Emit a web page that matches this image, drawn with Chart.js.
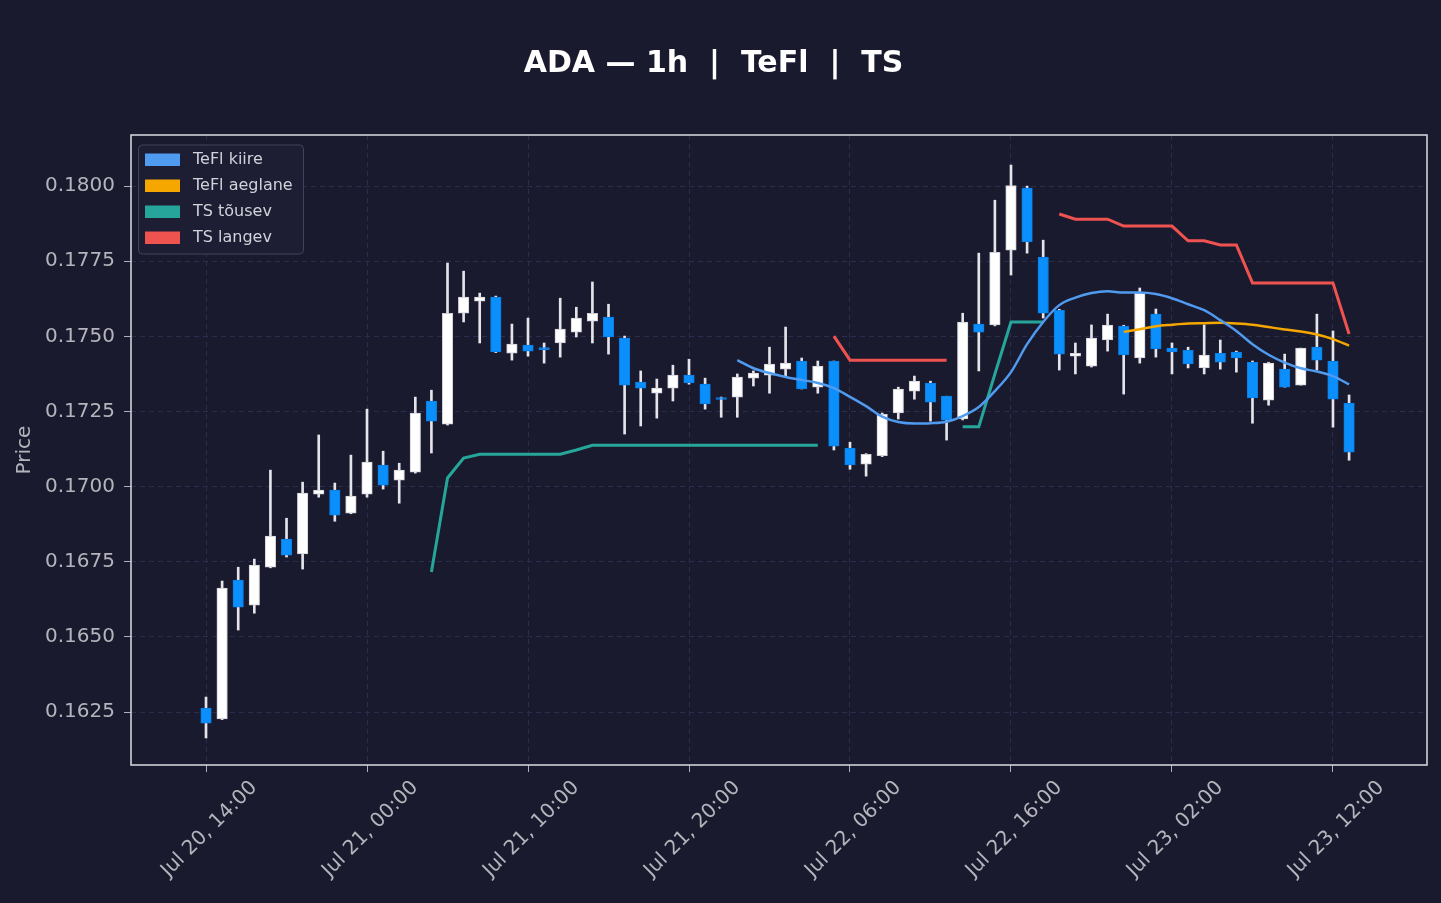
<!DOCTYPE html>
<html>
<head>
<meta charset="utf-8">
<script src="https://cdn.jsdelivr.net/npm/chart.js@4.4.1/dist/chart.umd.min.js"></script>
<style>
  html, body { margin: 0; padding: 0; background: #1a1a2e; }
  #wrap { width: 1441px; height: 903px; }
</style>
</head>
<body>
<div id="wrap"><canvas id="chart" width="1441" height="903"></canvas></div>
<script>
// hourly candles, hour 0 = Jul 20, 14:00
var tickHours = [0, 10, 20, 30, 40, 50, 60, 70];
var tickLabels = ['Jul 20, 14:00', 'Jul 21, 00:00', 'Jul 21, 10:00', 'Jul 21, 20:00',
                  'Jul 22, 06:00', 'Jul 22, 16:00', 'Jul 23, 02:00', 'Jul 23, 12:00'];
var priceTicks = [0.1625, 0.1650, 0.1675, 0.1700, 0.1725, 0.1750, 0.1775, 0.1800];

var opens = [0.16263, 0.16227, 0.16689, 0.16606, 0.16732, 0.16826, 0.16776, 0.16975, 0.16989, 0.16912,
             0.16975, 0.17072, 0.17022, 0.17048, 0.17285, 0.17208, 0.17577, 0.17617, 0.17631, 0.17444,
             0.17471, 0.17461, 0.17478, 0.17514, 0.17551, 0.17564, 0.17494, 0.17348, 0.17311, 0.17328,
             0.17371, 0.17341, 0.17294, 0.17298, 0.17361, 0.17371, 0.17391, 0.17418, 0.17331, 0.17418,
             0.17128, 0.17075, 0.17103, 0.17245, 0.17318, 0.17345, 0.17301, 0.17225, 0.17541, 0.17538,
             0.17787, 0.17993, 0.17764, 0.17587, 0.17434, 0.17401, 0.17488, 0.17534, 0.17428, 0.17574,
             0.17461, 0.17454, 0.17395, 0.17444, 0.17448, 0.17414, 0.17288, 0.17391, 0.17338, 0.17464,
             0.17418, 0.17278];
var highs = [0.16300, 0.16686, 0.16732, 0.16759, 0.17055, 0.16895, 0.17015, 0.17172, 0.17012, 0.17105,
             0.17258, 0.17118, 0.17078, 0.17298, 0.17321, 0.17744, 0.17717, 0.17644, 0.17634, 0.17541,
             0.17561, 0.17478, 0.17627, 0.17597, 0.17681, 0.17607, 0.17501, 0.17385, 0.17358, 0.17404,
             0.17424, 0.17361, 0.17298, 0.17375, 0.17385, 0.17464, 0.17531, 0.17428, 0.17418, 0.17418,
             0.17148, 0.17110, 0.17245, 0.17331, 0.17368, 0.17351, 0.17301, 0.17577, 0.17777, 0.17953,
             0.18070, 0.18000, 0.17820, 0.17590, 0.17478, 0.17538, 0.17574, 0.17537, 0.17661, 0.17591,
             0.17478, 0.17464, 0.17538, 0.17488, 0.17451, 0.17418, 0.17414, 0.17441, 0.17461, 0.17574,
             0.17518, 0.17305];
var lows = [0.16164, 0.16225, 0.16523, 0.16579, 0.16730, 0.16766, 0.16726, 0.16965, 0.16885, 0.16910,
            0.16965, 0.16992, 0.16945, 0.17045, 0.17112, 0.17205, 0.17548, 0.17478, 0.17446, 0.17421,
            0.17434, 0.17411, 0.17431, 0.17498, 0.17478, 0.17441, 0.17175, 0.17202, 0.17228, 0.17285,
            0.17341, 0.17258, 0.17231, 0.17231, 0.17335, 0.17311, 0.17365, 0.17325, 0.17311, 0.17122,
            0.17058, 0.17035, 0.17100, 0.17225, 0.17291, 0.17218, 0.17155, 0.17222, 0.17385, 0.17535,
            0.17704, 0.17777, 0.17561, 0.17388, 0.17375, 0.17398, 0.17451, 0.17308, 0.17411, 0.17431,
            0.17375, 0.17395, 0.17375, 0.17391, 0.17381, 0.17211, 0.17271, 0.17331, 0.17338, 0.17388,
            0.17198, 0.17088];
var closes = [0.16213, 0.16663, 0.16599, 0.16739, 0.16836, 0.16772, 0.16979, 0.16989, 0.16905, 0.16969,
              0.17082, 0.17005, 0.17055, 0.17245, 0.17218, 0.17577, 0.17631, 0.17631, 0.17448, 0.17474,
              0.17451, 0.17456, 0.17524, 0.17561, 0.17577, 0.17498, 0.17338, 0.17328, 0.17328, 0.17371,
              0.17345, 0.17275, 0.17290, 0.17365, 0.17378, 0.17408, 0.17411, 0.17325, 0.17401, 0.17135,
              0.17072, 0.17108, 0.17241, 0.17325, 0.17351, 0.17281, 0.17221, 0.17548, 0.17514, 0.17780,
              0.18002, 0.17814, 0.17577, 0.17441, 0.17444, 0.17494, 0.17538, 0.17438, 0.17644, 0.17458,
              0.17448, 0.17408, 0.17438, 0.17414, 0.17428, 0.17295, 0.17411, 0.17331, 0.17461, 0.17421,
              0.17291, 0.17115];

var tefiFast = [null, null, null, null, null, null, null, null, null, null,
                null, null, null, null, null, null, null, null, null, null,
                null, null, null, null, null, null, null, null, null, null,
                null, null, null, 0.17421, 0.17394, 0.17378, 0.17365, 0.17355, 0.17345, 0.17328,
                0.17299, 0.17268, 0.17233, 0.17215, 0.17210, 0.17211, 0.17216, 0.17235, 0.17265, 0.17318,
                0.17381, 0.17474, 0.17548, 0.17604, 0.17629, 0.17644, 0.17650, 0.17646, 0.17646, 0.17641,
                0.17627, 0.17607, 0.17587, 0.17554, 0.17518, 0.17474, 0.17439, 0.17413, 0.17394, 0.17383,
                0.17368, 0.17340];
var tefiSlow = [null, null, null, null, null, null, null, null, null, null,
                null, null, null, null, null, null, null, null, null, null,
                null, null, null, null, null, null, null, null, null, null,
                null, null, null, null, null, null, null, null, null, null,
                null, null, null, null, null, null, null, null, null, null,
                null, null, null, null, null, null, null, 0.17515, 0.17524, 0.17534,
                0.17539, 0.17543, 0.17544, 0.17545, 0.17543, 0.17539, 0.17531, 0.17523, 0.17516, 0.17506,
                0.17491, 0.17469];
var tsUp = [null, null, null, null, null, null, null, null, null, null,
            null, null, null, null, 0.16716, 0.17029, 0.17095, 0.17108, 0.17108, 0.17108,
            0.17108, 0.17108, 0.17108, 0.17122, 0.17138, 0.17138, 0.17138, 0.17138, 0.17138, 0.17138,
            0.17138, 0.17138, 0.17138, 0.17138, 0.17138, 0.17138, 0.17138, 0.17138, 0.17138, null,
            null, null, null, null, null, null, null, 0.17199, 0.17199, 0.17375,
            0.17548, 0.17548, 0.17548, null, null, null, null, null, null, null,
            null, null, null, null, null, null, null, null, null, null,
            null, null];
var tsDown = [null, null, null, null, null, null, null, null, null, null,
              null, null, null, null, null, null, null, null, null, null,
              null, null, null, null, null, null, null, null, null, null,
              null, null, null, null, null, null, null, null, null, 0.17501,
              0.17421, 0.17421, 0.17421, 0.17421, 0.17421, 0.17421, 0.17421, null, null, null,
              null, null, null, 0.17907, 0.17890, 0.17890, 0.17890, 0.17867, 0.17867, 0.17867,
              0.17867, 0.17818, 0.17818, 0.17804, 0.17804, 0.17678, 0.17678, 0.17678, 0.17678, 0.17678,
              0.17678, 0.17508];

var GRID = '#2c2c4c';
var TXT = '#b4b4bc';
Chart.defaults.font.family = '"DejaVu Sans", sans-serif';

var hours = opens.map(function (_, i) { return i; });
function pts(arr) {
  return hours.map(function (i) { return { x: i, y: arr[i] }; });
}
var up = hours.map(function (i) { return closes[i] >= opens[i]; });

// frame + legend drawn inside the plot, matplotlib style
var framePlugin = {
  id: 'frame',
  afterDraw: function (chart) {
    var ctx = chart.ctx, a = chart.chartArea;
    ctx.save();
    ctx.strokeStyle = '#dcdce2';
    ctx.lineWidth = 1.5;
    ctx.strokeRect(a.left, a.top, a.right - a.left, a.bottom - a.top);

    var bx = a.left + 7.5, by = a.top + 10, bw = 165, bh = 109, r = 4;
    ctx.beginPath();
    ctx.moveTo(bx + r, by);
    ctx.arcTo(bx + bw, by, bx + bw, by + bh, r);
    ctx.arcTo(bx + bw, by + bh, bx, by + bh, r);
    ctx.arcTo(bx, by + bh, bx, by, r);
    ctx.arcTo(bx, by, bx + bw, by, r);
    ctx.closePath();
    ctx.fillStyle = 'rgba(30,30,52,0.9)';
    ctx.fill();
    ctx.strokeStyle = '#42425f';
    ctx.lineWidth = 1;
    ctx.stroke();

    var items = chart.data.datasets.filter(function (d) { return d.type === 'line'; });
    ctx.font = '16px "DejaVu Sans"';
    ctx.textBaseline = 'middle';
    items.forEach(function (d, k) {
      ctx.fillStyle = d.borderColor;
      ctx.fillRect(a.left + 14, a.top + 18.5 + 26 * k, 35, 12.5);
      ctx.fillStyle = '#d2d2da';
      ctx.fillText(d.label, a.left + 62, a.top + 25 + 26 * k);
    });
    ctx.restore();
  }
};

var ctx = document.getElementById('chart').getContext('2d');
var myChart = new Chart(ctx, {
  type: 'bar',
  data: {
    datasets: [
      { type: 'line', label: 'TeFl kiire', data: pts(tefiFast), borderColor: '#4f9bef',
        borderWidth: 2.5, pointRadius: 0, cubicInterpolationMode: 'monotone', order: 0 },
      { type: 'line', label: 'TeFl aeglane', data: pts(tefiSlow), borderColor: '#f5a700',
        borderWidth: 2.5, pointRadius: 0, cubicInterpolationMode: 'monotone', order: 0 },
      { type: 'line', label: 'TS tõusev', data: pts(tsUp), borderColor: '#26a69a',
        borderWidth: 3, pointRadius: 0, tension: 0, order: 0 },
      { type: 'line', label: 'TS langev', data: pts(tsDown), borderColor: '#ef5350',
        borderWidth: 3, pointRadius: 0, tension: 0, order: 0 },
      { label: 'bodies', grouped: false, order: 1, barThickness: 10.5, minBarLength: 2,
        data: hours.map(function (i) { return { x: i, y: [opens[i], closes[i]] }; }),
        backgroundColor: up.map(function (u) { return u ? '#ffffff' : '#0a8ffc'; }),
        borderColor: up.map(function (u) { return u ? '#cfcfd6' : '#0a7fe6'; }),
        borderWidth: 1, borderSkipped: false },
      { label: 'wicks', grouped: false, order: 2, barThickness: 2,
        data: hours.map(function (i) { return { x: i, y: [lows[i], highs[i]] }; }),
        backgroundColor: '#e4e4ea', borderWidth: 0 }
    ]
  },
  options: {
    responsive: false,
    animation: false,
    layout: { padding: { left: 0, right: 14, top: 0, bottom: 0 } },
    plugins: {
      legend: { display: false },
      tooltip: { enabled: false },
      title: {
        display: true,
        text: 'ADA \u2014 1h  |  TeFl  |  TS',
        color: '#ffffff',
        font: { size: 30, weight: 'bold' },
        padding: { top: 46, bottom: 53 }
      }
    },
    scales: {
      x: {
        type: 'linear',
        min: -4.66,
        max: 75.84,
        offset: false,
        afterBuildTicks: function (s) { s.ticks = tickHours.map(function (v) { return { value: v }; }); },
        afterFit: function (s) { s.height = 138; },
        ticks: {
          autoSkip: false,
          maxRotation: 45,
          minRotation: 45,
          labelOffset: 48,
          padding: 4,
          color: TXT,
          font: { size: 20 },
          callback: function (v) { return tickLabels[tickHours.indexOf(v)]; }
        },
        grid: { offset: false, color: GRID, lineWidth: 1, tickColor: '#b0b0b8', tickLength: 7, tickBorderDash: [] },
        border: { display: false, dash: [5, 4] }
      },
      y: {
        min: 0.16074,
        max: 0.18170,
        afterBuildTicks: function (s) { s.ticks = priceTicks.map(function (v) { return { value: v }; }); },
        afterFit: function (s) { s.width = 131; },
        ticks: {
          color: TXT,
          font: { size: 20 },
          padding: 9,
          callback: function (v) { return v.toFixed(4); }
        },
        grid: { color: GRID, lineWidth: 1, tickColor: '#b0b0b8', tickLength: 7, tickBorderDash: [] },
        border: { display: false, dash: [5, 4] },
        title: { display: true, text: 'Price', color: TXT, font: { size: 20 }, padding: { top: 13, bottom: 0 } }
      }
    }
  },
  plugins: [framePlugin]
});
</script>
</body>
</html>
